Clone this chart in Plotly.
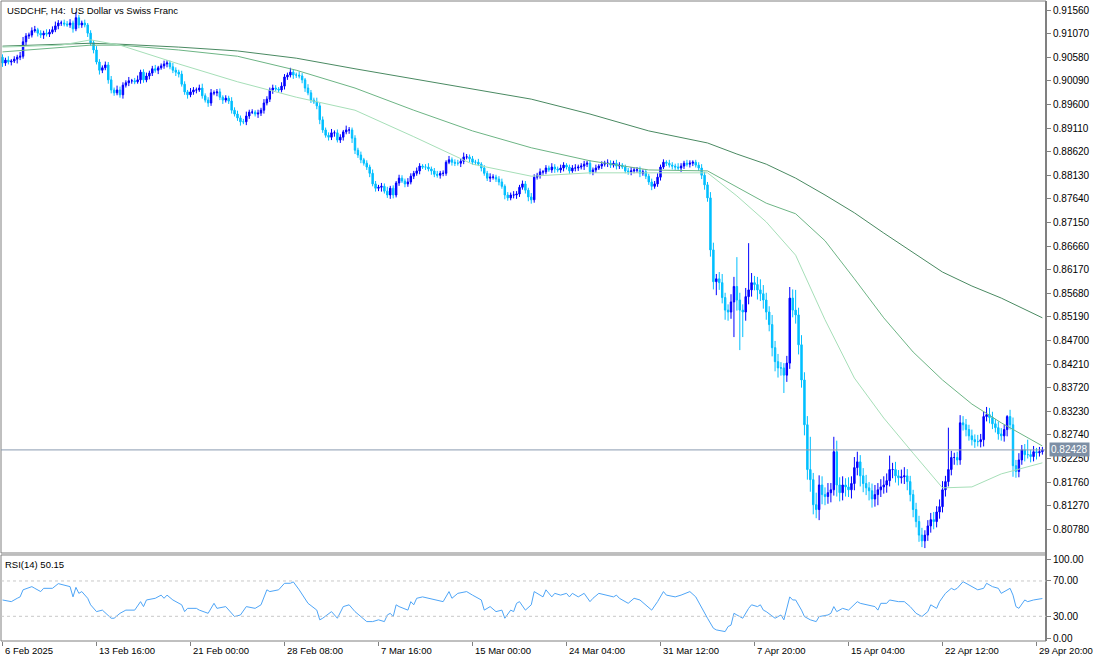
import plotly.graph_objects as go

# ---------------- data ----------------
title_text = "USDCHF, H4:  US Dollar vs Swiss Franc"

first_open = 0.9058
closes = [
    0.9046, 0.9052, 0.9048, 0.9050, 0.9054, 0.9058, 0.9060, 0.9090, 0.9102, 0.9104,
    0.9113, 0.9115, 0.9108, 0.9104, 0.9108, 0.9106, 0.9110, 0.9115, 0.9123, 0.9129,
    0.9129, 0.9127, 0.9125, 0.9129, 0.9117, 0.9140, 0.9125, 0.9129, 0.9125, 0.9108,
    0.9088, 0.9073, 0.9048, 0.9031, 0.9036, 0.9042, 0.9011, 0.8990, 0.8984, 0.8990,
    0.8980, 0.9000, 0.9005, 0.9009, 0.9009, 0.9007, 0.9011, 0.9027, 0.9011, 0.9019,
    0.9025, 0.9034, 0.9031, 0.9036, 0.9040, 0.9044, 0.9046, 0.9038, 0.9031, 0.9027,
    0.9023, 0.9002, 0.8986, 0.8980, 0.8986, 0.8990, 0.8990, 0.8994, 0.8978, 0.8969,
    0.8963, 0.8984, 0.8984, 0.8986, 0.8975, 0.8969, 0.8973, 0.8967, 0.8948, 0.8940,
    0.8932, 0.8924, 0.8924, 0.8936, 0.8944, 0.8944, 0.8940, 0.8942, 0.8948, 0.8963,
    0.8971, 0.8990, 0.8994, 0.8992, 0.8990, 0.8998, 0.9017, 0.9021, 0.9027, 0.9021,
    0.9021, 0.9019, 0.9011, 0.8994, 0.8984, 0.8969, 0.8965, 0.8957, 0.8928, 0.8907,
    0.8896, 0.8892, 0.8901, 0.8901, 0.8886, 0.8892, 0.8903, 0.8907, 0.8907, 0.8890,
    0.8865, 0.8855, 0.8845, 0.8838, 0.8830, 0.8817, 0.8795, 0.8786, 0.8788, 0.8790,
    0.8780, 0.8772, 0.8786, 0.8772, 0.8797, 0.8807, 0.8801, 0.8795, 0.8799, 0.8811,
    0.8817, 0.8822, 0.8832, 0.8830, 0.8830, 0.8826, 0.8822, 0.8815, 0.8813, 0.8817,
    0.8817, 0.8840, 0.8845, 0.8840, 0.8838, 0.8838, 0.8842, 0.8851, 0.8851, 0.8847,
    0.8840, 0.8840, 0.8836, 0.8828, 0.8817, 0.8807, 0.8809, 0.8809, 0.8805, 0.8799,
    0.8790, 0.8772, 0.8766, 0.8772, 0.8772, 0.8774, 0.8788, 0.8795, 0.8782, 0.8768,
    0.8762, 0.8809, 0.8813, 0.8820, 0.8820, 0.8828, 0.8824, 0.8830, 0.8826, 0.8824,
    0.8828, 0.8834, 0.8830, 0.8822, 0.8828, 0.8828, 0.8830, 0.8832, 0.8836, 0.8838,
    0.8820, 0.8824, 0.8828, 0.8832, 0.8836, 0.8838, 0.8838, 0.8834, 0.8838, 0.8832,
    0.8834, 0.8830, 0.8822, 0.8820, 0.8822, 0.8824, 0.8824, 0.8817, 0.8820, 0.8811,
    0.8799, 0.8790, 0.8795, 0.8809, 0.8830, 0.8840, 0.8838, 0.8834, 0.8832, 0.8830,
    0.8828, 0.8832, 0.8838, 0.8836, 0.8838, 0.8840, 0.8834, 0.8828, 0.8813, 0.8793,
    0.8766, 0.8658, 0.8592, 0.8598, 0.8590, 0.8559, 0.8533, 0.8529, 0.8550, 0.8582,
    0.8554, 0.8533, 0.8529, 0.8561, 0.8575, 0.8590, 0.8586, 0.8575, 0.8567, 0.8554,
    0.8529, 0.8503, 0.8455, 0.8426, 0.8413, 0.8413, 0.8398, 0.8423, 0.8558, 0.8533,
    0.8523, 0.8461, 0.8388, 0.8295, 0.8202, 0.8181, 0.8129, 0.8119, 0.8170, 0.8150,
    0.8146, 0.8154, 0.8160, 0.8239, 0.8170, 0.8154, 0.8170, 0.8166, 0.8160, 0.8173,
    0.8206, 0.8218, 0.8189, 0.8173, 0.8164, 0.8158, 0.8141, 0.8150, 0.8160, 0.8166,
    0.8170, 0.8179, 0.8202, 0.8202, 0.8189, 0.8185, 0.8187, 0.8189, 0.8177, 0.8150,
    0.8119, 0.8094, 0.8066, 0.8054, 0.8066, 0.8085, 0.8098, 0.8094, 0.8114, 0.8125,
    0.8160, 0.8177, 0.8202, 0.8227, 0.8227, 0.8222, 0.8299, 0.8295, 0.8285, 0.8272,
    0.8264, 0.8260, 0.8260, 0.8264, 0.8312, 0.8316, 0.8310, 0.8297, 0.8289, 0.8276,
    0.8272, 0.8285, 0.8312, 0.8295, 0.8210, 0.8198, 0.8222, 0.8243, 0.8233, 0.8233,
    0.8229, 0.8239, 0.8237, 0.8239, 0.82428,
]

wick_up_pips = [
    6, 5, 8, 4, 6, 5, 9, 10, 6, 5, 7, 8, 4, 6, 5, 8, 6, 7, 9, 6,
    5, 7, 6, 8, 5, 12, 6, 5, 7, 4, 6, 5, 8, 6, 5, 7, 6, 8, 5, 9,
    7, 6, 5, 8, 4, 6, 9, 5, 6, 7, 5, 6, 8, 4, 5, 7, 6, 5, 8, 6,
    5, 7, 6, 4, 8, 6, 5, 7, 9, 5, 6, 8, 5, 6, 7, 4, 6, 5, 8, 6,
    7, 5, 6, 9, 5, 6, 4, 7, 5, 8, 6, 5, 7, 6, 4, 8, 6, 5, 9, 6,
    5, 7, 6, 4, 8, 6, 5, 9, 6, 7, 5, 6, 8, 5, 7, 6, 4, 9, 6, 5,
    6, 5, 7, 4, 6, 5, 8, 6, 5, 7, 6, 9, 5, 6, 4, 7, 6, 5, 8, 6,
    5, 7, 6, 4, 6, 8, 5, 6, 7, 5, 6, 4, 8, 5, 6, 7, 5, 9, 6, 5,
    6, 5, 7, 4, 6, 5, 8, 6, 5, 6, 7, 4, 6, 5, 8, 6, 5, 7, 6, 5,
    8, 6, 5, 7, 4, 6, 5, 8, 6, 5, 7, 6, 4, 5, 6, 8, 5, 6, 7, 5,
    6, 5, 7, 4, 6, 5, 8, 6, 5, 7, 6, 4, 5, 6, 8, 5, 6, 7, 5, 6,
    5, 7, 6, 8, 5, 6, 4, 7, 6, 5, 8, 6, 5, 7, 6, 4, 5, 6, 8, 7,
    6, 12, 15, 10, 14, 18, 10, 12, 16, 20, 61, 15, 12, 18, 97, 20, 14, 16, 22, 18,
    15, 12, 20, 14, 16, 12, 10, 15, 23, 18, 42, 15, 20, 16, 18, 68, 14, 25, 20, 18,
    15, 20, 14, 31, 23, 16, 18, 14, 20, 15, 22, 21, 14, 16, 18, 12, 15, 20, 14, 16,
    18, 15, 29, 14, 16, 12, 15, 18, 14, 12, 10, 14, 12, 15, 10, 12, 14, 16, 12, 15,
    18, 12, 87, 14, 10, 12, 16, 14, 12, 10, 13, 11, 14, 12, 10, 16, 14, 12, 10, 13,
    12, 10, 3, 14, 15, 12, 14, 10, 12, 31, 10, 12, 8, 10, 6,
]

wick_dn_pips = [
    8, 6, 5, 7, 4, 9, 6, 5, 7, 6, 5, 4, 7, 6, 8, 5, 6, 4, 5, 7,
    6, 5, 4, 6, 8, 5, 7, 6, 5, 8, 6, 7, 5, 9, 6, 5, 8, 7, 6, 5,
    6, 8, 5, 7, 6, 5, 4, 8, 6, 5, 7, 6, 5, 8, 4, 6, 7, 5, 6, 8,
    7, 5, 6, 8, 5, 6, 7, 4, 6, 5, 8, 6, 5, 7, 6, 8, 5, 6, 7, 5,
    6, 8, 5, 7, 6, 4, 5, 8, 6, 7, 5, 6, 8, 4, 6, 5, 7, 6, 5, 8,
    6, 5, 7, 8, 5, 6, 4, 7, 9, 6, 5, 7, 6, 8, 5, 6, 7, 5, 8, 10,
    8, 6, 7, 5, 6, 8, 5, 7, 6, 9, 5, 6, 8, 7, 5, 6, 4, 7, 6, 5,
    6, 5, 7, 4, 6, 5, 8, 6, 5, 7, 6, 5, 4, 7, 6, 5, 8, 6, 5, 7,
    5, 6, 4, 7, 5, 6, 8, 5, 6, 7, 5, 9, 6, 5, 7, 8, 6, 5, 7, 9,
    8, 6, 5, 7, 6, 5, 4, 6, 8, 5, 6, 7, 5, 6, 4, 7, 6, 5, 8, 6,
    5, 7, 6, 4, 6, 5, 8, 6, 5, 7, 6, 4, 5, 6, 7, 5, 6, 8, 5, 6,
    6, 8, 5, 6, 7, 4, 6, 5, 7, 6, 5, 8, 6, 5, 7, 6, 5, 6, 8, 10,
    8, 14, 16, 28, 15, 12, 20, 18, 14, 73, 22, 83, 52, 18, 16, 14, 12, 20, 15, 18,
    16, 14, 18, 20, 20, 16, 37, 14, 12, 15, 18, 20, 16, 22, 21, 25, 20, 18, 22, 20,
    18, 15, 20, 12, 24, 18, 16, 20, 15, 18, 14, 16, 22, 18, 15, 20, 18, 16, 22, 15,
    14, 16, 12, 18, 14, 16, 12, 15, 18, 14, 16, 12, 14, 13, 15, 12, 14, 16, 12, 14,
    12, 14, 10, 12, 15, 11, 10, 12, 14, 10, 12, 13, 10, 12, 14, 10, 12, 11, 10, 12,
    10, 12, 14, 10, 23, 13, 12, 10, 14, 8, 12, 10, 14, 8, 6,
]

# moving averages, read at a set of bar positions
ma_bars = [0, 20, 30, 40, 60, 80, 100, 120, 140, 160, 180, 200, 220, 240,
           250, 260, 270, 280, 290, 300, 310, 320, 330, 340, 354]
ma_slow = [0.9081, 0.9085, 0.9087, 0.9085, 0.9079, 0.9071, 0.9056, 0.9034, 0.9013,
           0.8992, 0.8971, 0.8940, 0.8905, 0.8880, 0.8857, 0.8836, 0.8807, 0.8772,
           0.8735, 0.8693, 0.8652, 0.8612, 0.8583, 0.8558, 0.8517]
ma_mid = [0.9069, 0.9079, 0.9083, 0.9083, 0.9073, 0.9060, 0.9031, 0.8994, 0.8948,
          0.8905, 0.8870, 0.8843, 0.8824, 0.8822, 0.8789, 0.8755, 0.8733, 0.8677,
          0.8598, 0.8517, 0.8446, 0.8388, 0.8338, 0.8299, 0.8251]
ma_fast = [0.9079, 0.9083, 0.9094, 0.9083, 0.9044, 0.9007, 0.8975, 0.8948, 0.8893,
           0.8836, 0.8811, 0.8818, 0.8818, 0.8818, 0.8770, 0.8716, 0.8647, 0.8513,
           0.8392, 0.8309, 0.8236, 0.8164, 0.8166, 0.8193, 0.8216]

rsi_bars = [0, 3, 5, 6, 7, 10, 11, 13, 14, 17, 19, 21, 23, 24, 25, 26, 27, 29, 30, 32,
            34, 37, 38, 40, 42, 45, 47, 48, 49, 52, 54, 55, 56, 58, 61, 62, 63, 66, 67, 70,
            72, 73, 76, 79, 81, 83, 86, 88, 90, 91, 94, 96, 98, 99, 101, 104, 106, 107, 108, 109,
            112, 114, 116, 118, 120, 122, 124, 126, 128, 130, 131, 132, 133, 134, 135, 138, 139, 140, 141, 143,
            147, 150, 152, 153, 155, 158, 160, 163, 164, 166, 168, 170, 171, 173, 174, 175, 176, 178, 180, 181,
            184, 185, 187, 188, 190, 192, 193, 194, 196, 198, 200, 201, 203, 206, 208, 209, 210, 213, 215, 217,
            219, 221, 223, 225, 226, 229, 231, 234, 236, 238, 240, 242, 243, 246, 247, 248, 249, 250, 252, 254,
            255, 257, 258, 259, 260, 263, 265, 266, 268, 269, 270, 272, 273, 275, 277, 278, 281, 282, 283, 284,
            286, 288, 291, 292, 294, 297, 298, 299, 301, 302, 305, 307, 309, 311, 313, 315, 316, 318, 319, 321,
            323, 324, 325, 327, 328, 330, 332, 334, 335, 337, 339, 340, 341, 343, 344, 345, 346, 348, 349, 351,
            354]
rsi_vals = [48.5, 46.6, 50.4, 52, 60, 63.6, 61.7, 58, 61.7, 61.7, 67, 65.5, 63.6, 52, 62.8, 56, 58, 50.4, 43, 35.3,
            37, 27.8, 27.8, 33.4, 37, 37, 46.6, 41, 48.5, 50.4, 54, 50.4, 54, 48.5, 43, 35.3, 39, 39, 37, 33.4,
            44.7, 39, 41, 29.7, 31.5, 41, 39, 43, 60, 58, 60, 67.4, 67.4, 69, 60, 44.7, 39, 37, 26, 27.8,
            35.3, 27.8, 41, 43, 35.3, 29.7, 24, 24, 26, 24, 31.5, 33.4, 29.7, 43, 41, 37, 46.6, 43, 50.4, 52,
            48.5, 46.6, 58, 50.4, 56, 58, 54, 48.5, 37, 41, 35.3, 37, 27.8, 37, 35.3, 44.7, 46.6, 37, 43, 58,
            52, 60, 52, 56, 54, 56, 52, 56, 52, 56, 46.6, 50.4, 56, 54, 52, 54, 50.4, 44.7, 50.4, 48.5,
            43, 37, 46.6, 58, 54, 52, 54, 58, 52, 39, 27.8, 16.5, 14.6, 12.7, 18.4, 20, 33.4, 31.5, 27.8, 39,
            43, 41, 43, 37, 35.3, 27.8, 31.5, 26, 52, 48.5, 48.5, 37, 29.7, 26, 24, 29.7, 31.5, 33.4, 41, 35.3,
            39, 37, 46.6, 44.7, 43, 41, 37, 44.7, 44.7, 48.5, 46.6, 46.6, 41, 33.4, 29.7, 35.3, 43, 39, 46.6, 56,
            61.7, 60, 61.7, 69.2, 67.4, 63.6, 60, 61.7, 67.4, 63.6, 61.7, 56, 58, 61.7, 54, 41, 39, 48.5, 46.6, 48.5,
            50.15]

price_ticks = [0.91560, 0.91070, 0.90580, 0.90090, 0.89600, 0.89110, 0.88620, 0.88130,
               0.87640, 0.87150, 0.86660, 0.86170, 0.85680, 0.85190, 0.84700, 0.84210,
               0.83720, 0.83230, 0.82740, 0.82250, 0.81760, 0.81270, 0.80780]
x_tick_bars = [0, 32, 64, 96, 128, 160, 192, 224, 256, 288, 320, 352]
x_tick_labels = ["6 Feb 2025", "13 Feb 16:00", "21 Feb 00:00", "28 Feb 08:00",
                 "7 Mar 16:00", "15 Mar 00:00", "24 Mar 04:00", "31 Mar 12:00",
                 "7 Apr 20:00", "15 Apr 04:00", "22 Apr 12:00", "29 Apr 20:00"]
rsi_levels = [70, 30]
rsi_tick_vals = [94.9, 70, 30, 5.4]
rsi_tick_text = ["100.00", "70.00", "30.00", "0.00"]
last_price = 0.82428
rsi_label = "RSI(14) 50.15"

# ---------------- derived OHLC ----------------
n = len(closes)
bars = list(range(n))
opens = [first_open] + closes[:-1]
highs = [max(o, c) + u * 0.0001 for o, c, u in zip(opens, closes, wick_up_pips)]
lows = [min(o, c) - d * 0.0001 for o, c, d in zip(opens, closes, wick_dn_pips)]

FONT = "Liberation Sans, Arial, sans-serif"
x_range = [-0.51, 355.23]

fig = go.Figure()
fig.add_trace(go.Candlestick(
    x=bars, open=opens, high=highs, low=lows, close=closes,
    increasing=dict(line=dict(color="#0000ff", width=1), fillcolor="#0000ff"),
    decreasing=dict(line=dict(color="#00bfff", width=1), fillcolor="#00bfff"),
    whiskerwidth=0, showlegend=False, hoverinfo="skip", xaxis="x", yaxis="y"))

for vals, col in [(ma_slow, "#4a8a62"), (ma_mid, "#6db585"), (ma_fast, "#a6dfb8")]:
    fig.add_trace(go.Scatter(x=ma_bars, y=vals, mode="lines", line=dict(color=col, width=1),
                             showlegend=False, hoverinfo="skip", xaxis="x", yaxis="y"))

fig.add_trace(go.Scatter(x=rsi_bars, y=rsi_vals, mode="lines",
                         line=dict(color="#4ea5f7", width=1),
                         showlegend=False, hoverinfo="skip", xaxis="x2", yaxis="y2"))

axis_font = dict(family=FONT, size=10, color="#000000")

fig.update_layout(
    width=1100, height=660,
    margin=dict(l=1, r=54, t=1, b=19),
    paper_bgcolor="white", plot_bgcolor="white",
    xaxis=dict(domain=[0, 1], range=x_range, anchor="y", showticklabels=False,
               showgrid=False, zeroline=False, ticks="", rangeslider=dict(visible=False)),
    yaxis=dict(domain=[0.1375, 1], range=[0.80288, 0.91747], side="right", anchor="x",
               tickvals=price_ticks, ticktext=[f"{v:.5f}" for v in price_ticks],
               ticks="outside", ticklen=4, tickcolor="#808080", showgrid=False,
               zeroline=False, tickfont=axis_font, automargin=False),
    xaxis2=dict(domain=[0, 1], range=x_range, anchor="y2", tickvals=x_tick_bars,
                ticks="outside", ticklen=4, tickcolor="#808080", showticklabels=False,
                showgrid=False, zeroline=False),
    yaxis2=dict(domain=[0, 0.1344], range=[2.03, 99.45], side="right", anchor="x2",
                tickvals=rsi_tick_vals, ticktext=rsi_tick_text, ticks="outside", ticklen=4,
                tickcolor="#808080", showgrid=False, zeroline=False, tickfont=axis_font,
                automargin=False),
)

shapes = [
    dict(type="rect", xref="x domain", yref="y domain", x0=0, x1=1, y0=0, y1=1,
         line=dict(color="#808080", width=1)),
    dict(type="rect", xref="x2 domain", yref="y2 domain", x0=0, x1=1, y0=0, y1=1,
         line=dict(color="#808080", width=1)),
    dict(type="line", xref="x domain", yref="y", x0=0, x1=1, y0=last_price, y1=last_price,
         line=dict(color="#8a9ab0", width=1)),
    dict(type="line", xref="paper", yref="paper", x0=1, x1=1, y0=0, y1=1,
         line=dict(color="#808080", width=2)),
]
for lv in rsi_levels:
    shapes.append(dict(type="line", xref="x2 domain", yref="y2", x0=0, x1=1, y0=lv, y1=lv,
                       line=dict(color="#c8c8c8", width=1, dash="dot")))
fig.update_layout(shapes=shapes)

annotations = [
    dict(text=title_text, xref="paper", yref="paper", x=0.004, y=1, xanchor="left",
         yanchor="top", yshift=-2, showarrow=False, font=dict(family=FONT, size=9.5, color="#000")),
    dict(text=rsi_label, xref="paper", yref="y2 domain", x=0.002, y=1, xanchor="left",
         yanchor="top", yshift=-2, showarrow=False, font=dict(family=FONT, size=9.5, color="#000")),
    dict(text=f"{last_price:.5f}", xref="paper", yref="y", x=1, y=last_price, xanchor="left",
         yanchor="middle", xshift=3, showarrow=False, bgcolor="#7d8fa5", borderpad=1,
         font=dict(family=FONT, size=10, color="#ffffff")),
]
for b, lab in zip(x_tick_bars, x_tick_labels):
    annotations.append(dict(text=lab, xref="x2", yref="paper", x=b, y=0, xanchor="left",
                            yanchor="top", yshift=-2, showarrow=False,
                            font=dict(family=FONT, size=9.5, color="#000")))
fig.update_layout(annotations=annotations)

fig.write_html("out.html", config={"displayModeBar": False},
               post_script="document.body.style.margin='0';document.body.style.overflow='hidden';")
